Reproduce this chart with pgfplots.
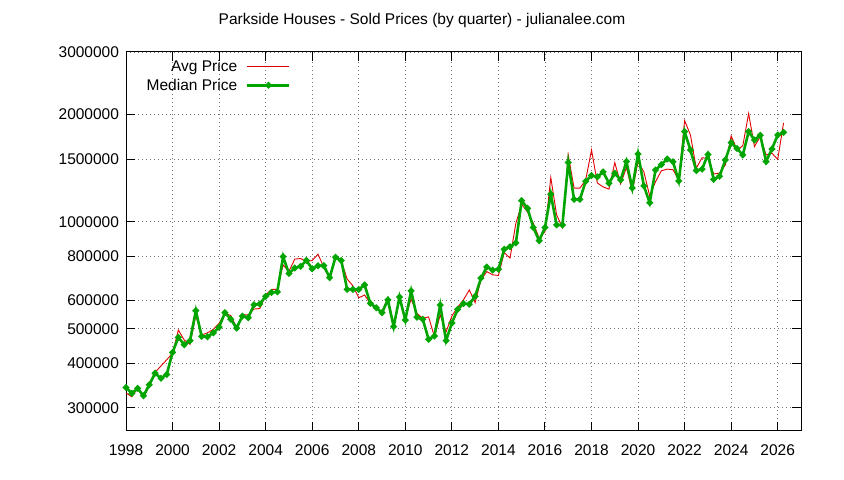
\documentclass[border=0pt]{standalone}
\usepackage{pgfplots}
\pgfplotsset{compat=1.18}
\usepackage{pgfplotstable}
\usepackage{fontspec}
\setmainfont{Liberation Sans}

\definecolor{avgred}{RGB}{225,0,0}
\definecolor{medgreen}{RGB}{0,165,0}

% quarterly sold prices
\pgfplotstableread{
year    avg     med
1998.00 330000  342000
1998.25 322000  329000
1998.50 340000  340000
1998.75 319000  324000
1999.00 346000  348000
1999.25 377000  375000
1999.50 393000  363000
1999.75 409000  372000
2000.00 427000  429000
2000.25 496000  473000
2000.50 465000  451000
2000.75 452000  463000
2001.00 545000  562000
2001.25 480000  476000
2001.50 487000  475000
2001.75 498000  487000
2002.00 518000  505000
2002.25 552000  555000
2002.50 545000  532000
2002.75 505000  502000
2003.00 547000  543000
2003.25 547000  537000
2003.50 568000  584000
2003.75 570000  587000
2004.00 622000  617000
2004.25 645000  632000
2004.50 645000  635000
2004.75 756000  798000
2005.00 725000  715000
2005.25 785000  741000
2005.50 788000  749000
2005.75 773000  778000
2006.00 778000  737000
2006.25 810000  752000
2006.50 744000  752000
2006.75 696000  696000
2007.00 795000  795000
2007.25 776000  778000
2007.50 690000  645000
2007.75 660000  645000
2008.00 611000  645000
2008.25 622000  664000
2008.50 589000  589000
2008.75 572000  573000
2009.00 557000  555000
2009.25 612000  603000
2009.50 510000  507000
2009.75 611000  614000
2010.00 535000  529000
2010.25 606000  639000
2010.50 552000  539000
2010.75 535000  532000
2011.00 540000  467000
2011.25 475000  477000
2011.50 547000  583000
2011.75 490000  463000
2012.00 543000  519000
2012.25 575000  567000
2012.50 603000  589000
2012.75 643000  586000
2013.00 592000  617000
2013.25 686000  694000
2013.50 724000  746000
2013.75 709000  731000
2014.00 706000  735000
2014.25 819000  836000
2014.50 790000  850000
2014.75 990000  872000
2015.00 1119000 1146000
2015.25 1065000 1090000
2015.50 990000  963000
2015.75 899000  884000
2016.00 937000  963000
2016.25 1331000 1195000
2016.50 1045000 979000
2016.75 963000  979000
2017.00 1540000 1466000
2017.25 1243000 1155000
2017.50 1243000 1155000
2017.75 1310000 1299000
2018.00 1591000 1348000
2018.25 1285000 1336000
2018.50 1252000 1380000
2018.75 1235000 1283000
2019.00 1466000 1368000
2019.25 1277000 1310000
2019.50 1420000 1476000
2019.75 1215000 1243000
2020.00 1476000 1550000
2020.25 1380000 1260000
2020.50 1181000 1130000
2020.75 1296000 1398000
2021.00 1390000 1447000
2021.25 1405000 1500000
2021.50 1400000 1474000
2021.75 1310000 1301000
2022.00 1925000 1791000
2022.25 1753000 1591000
2022.50 1414000 1392000
2022.75 1513000 1405000
2023.00 1506000 1545000
2023.25 1362000 1315000
2023.50 1370000 1342000
2023.75 1444000 1491000
2024.00 1743000 1668000
2024.25 1591000 1607000
2024.50 1635000 1540000
2024.75 2015000 1791000
2025.00 1626000 1697000
2025.25 1735000 1750000
2025.50 1540000 1476000
2025.75 1558000 1601000
2026.00 1497000 1753000
2026.25 1895000 1783000
}\prices

\begin{document}
\begin{tikzpicture}[font=\fontsize{15.5bp}{18bp}\selectfont]
\path[use as bounding box] (0bp,0bp) rectangle (844bp,480bp);
\begin{axis}[
    at={(126bp,49bp)}, anchor=south west,
    scale only axis, width=675bp, height=379bp,
    ymode=log, ymin=258000, ymax=3000000,
    xmin=1998, xmax=2027,
    xtick={1998,2000,...,2026},
    ytick={300000,400000,500000,600000,800000,1000000,1500000,2000000,3000000},
    yticklabels={300000,400000,500000,600000,800000,1000000,1500000,2000000,3000000},
    yminorticks=false,
    tick label style={font=\fontsize{15.5bp}{18bp}\selectfont},
    xticklabel style={/pgf/number format/1000 sep={}, /pgf/number format/assume math mode=true, yshift=-10bp},
    yticklabel style={xshift=-3.5bp},
    tick align=inside, major tick length=9bp,
    every tick/.style={black, line width=1bp},
    axis line style={line width=1bp},
    grid=major,
    major grid style={black!55, line width=0.8bp, dash pattern=on 0.8bp off 3.2bp},
    legend plot pos=right,
    legend cell align=right,
    legend image code/.code={\draw[mark repeat=2, mark phase=2, #1] plot coordinates {(0bp,0bp) (21bp,0bp) (42bp,0bp)};},
    legend style={at={(axis description cs:0.2444,0.979)}, anchor=north east,
        draw=none, fill=none, inner sep=0pt, row sep=6bp,
        font=\fontsize{15.5bp}{18bp}\selectfont,
        nodes={inner sep=0pt},
        /tikz/every odd column/.append style={column sep=9bp}},
]
\addplot[avgred, line width=0.9bp, mark=none] table[x=year, y=avg] {\prices};
\addplot[medgreen, line width=2.6bp, mark=*, mark size=1.8bp, mark options={solid, fill=medgreen}] table[x=year, y=med] {\prices};
\legend{Avg Price, Median Price}
\end{axis}
\node[anchor=base] at (422bp,455bp) {Parkside Houses - Sold Prices (by quarter) - julianalee.com};
\end{tikzpicture}
\end{document}
